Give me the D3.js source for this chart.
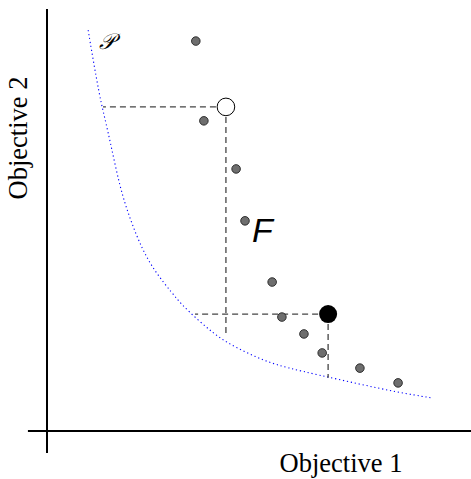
<!DOCTYPE html>
<html><head><meta charset="utf-8">
<script src="https://cdn.jsdelivr.net/npm/d3@7"></script>
<style>body{margin:0;background:#fff}</style>
</head><body>
<script>
// Data (units: objective values)
const pointsX = [3.51, 3.70, 4.46, 4.67, 5.31, 5.54, 6.06, 6.49, 7.38, 8.28];
const pointsY = [9.24, 7.35, 6.21, 4.98, 3.53, 2.70, 2.30, 1.85, 1.49, 1.14];
const frontX = [0.97, 1.13, 1.25, 1.30, 1.49, 1.72, 1.96, 2.24, 2.55, 2.95, 3.18, 3.54, 3.92, 4.25, 4.72, 5.19, 5.66, 6.39, 7.38, 8.25, 9.10];
const frontY = [9.50, 8.55, 7.91, 7.68, 6.87, 5.76, 5.02, 4.31, 3.77, 3.27, 2.99, 2.65, 2.32, 2.09, 1.85, 1.64, 1.50, 1.33, 1.11, 0.92, 0.78];
const whitePt = [4.22, 7.68];
const blackPt = [6.63, 2.77];
// projections of the highlighted points onto the front
const whiteProj = [1.32, 2.23];
const blackProj = [3.49, 1.26];
const xLabel = "Objective 1", yLabel = "Objective 2";

const W = 471, H = 479;
const svg = d3.select("body").append("svg").attr("width", W).attr("height", H);
const x = d3.scaleLinear().domain([0, 10]).range([47, 471]);
const y = d3.scaleLinear().domain([0, 10]).range([431, 9]);

// axes
svg.append("line").attr("x1", x(-0.45)).attr("x2", x(10)).attr("y1", y(0)).attr("y2", y(0))
  .attr("stroke", "#000").attr("stroke-width", 2);
svg.append("line").attr("x1", x(0)).attr("x2", x(0)).attr("y1", y(10)).attr("y2", y(-0.52))
  .attr("stroke", "#000").attr("stroke-width", 2);

// front curve
const front = frontX.map((v, i) => [v, frontY[i]]);
svg.append("path").datum(front)
  .attr("d", d3.line().x(d => x(d[0])).y(d => y(d[1])).curve(d3.curveBasis))
  .attr("fill", "none").attr("stroke", "#0000ff").attr("stroke-width", 1.1)
  .attr("stroke-dasharray", "1.2,2.8");

// dashed projection lines
const dash = (x1, y1, x2, y2) => svg.append("line")
  .attr("x1", x(x1)).attr("y1", y(y1)).attr("x2", x(x2)).attr("y2", y(y2))
  .attr("stroke", "#444").attr("stroke-width", 1.3).attr("stroke-dasharray", "6,4");
dash(whitePt[0], whitePt[1], whiteProj[0], whitePt[1]);
dash(whitePt[0], whitePt[1], whitePt[0], whiteProj[1]);
dash(blackPt[0], blackPt[1], blackProj[0], blackPt[1]);
dash(blackPt[0], blackPt[1], blackPt[0], blackProj[1]);

// gray points
svg.selectAll("circle.pt").data(pointsX.map((v, i) => [v, pointsY[i]])).enter()
  .append("circle").attr("class", "pt")
  .attr("cx", d => x(d[0])).attr("cy", d => y(d[1])).attr("r", 4.3)
  .attr("fill", "#6e6e6e").attr("stroke", "#222").attr("stroke-width", 0.9);

// highlighted points
svg.append("circle").attr("cx", x(whitePt[0])).attr("cy", y(whitePt[1])).attr("r", 8.8)
  .attr("fill", "#fff").attr("stroke", "#000").attr("stroke-width", 1);
svg.append("circle").attr("cx", x(blackPt[0])).attr("cy", y(blackPt[1])).attr("r", 9)
  .attr("fill", "#000");

// labels
svg.append("text").attr("x", 341).attr("y", 472).attr("text-anchor", "middle")
  .attr("font-family", "Liberation Serif, Times New Roman, serif").attr("font-size", 26.5)
  .text(xLabel);
svg.append("text").attr("transform", "translate(27,138) rotate(-90)").attr("text-anchor", "middle")
  .attr("font-family", "Liberation Serif, Times New Roman, serif").attr("font-size", 26.5)
  .text(yLabel);
svg.append("text").attr("x", 99).attr("y", 49)
  .attr("font-family", "DejaVu Serif, serif").attr("font-style", "italic").attr("font-size", 22)
  .text("𝒫");
svg.append("text").attr("x", 252).attr("y", 242)
  .attr("font-family", "Liberation Sans, Arial, sans-serif").attr("font-style", "italic").attr("font-size", 34)
  .text("F");
</script>
</body></html>
